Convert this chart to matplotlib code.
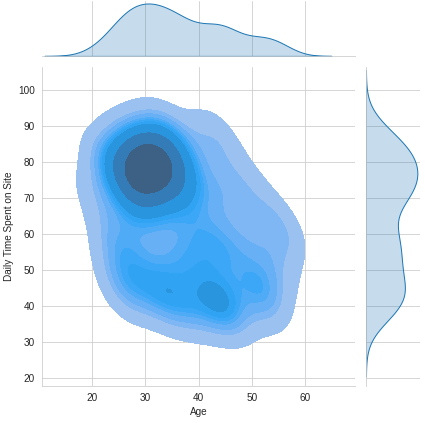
import matplotlib
matplotlib.use('Agg')
import matplotlib.pyplot as plt
import seaborn as sns
import pandas as pd

# hand-read sample of visitors (age, daily minutes on site)
# young visitors with long sessions
age_a = [30, 32, 35, 27, 31, 31, 34, 28, 34, 28, 29, 32, 30, 29,
         38, 37, 35, 31, 27, 25, 24, 25, 27, 31, 35, 37,
         44, 48, 52, 46, 42, 55, 22, 20, 23, 33, 40, 29, 42]
time_a = [79, 77, 78, 78, 83, 73, 82, 82, 74, 74, 76, 80, 84, 71,
          78, 83, 87, 88, 87, 83, 78, 73, 69, 68, 69, 73,
          84, 76, 68, 70, 89, 62, 82, 72, 62, 90, 65, 62, 72]
# older visitors with shorter sessions
age_b = [38, 35, 43, 32, 31, 27, 33, 43, 49, 52, 45, 53, 55, 52, 46,
         44, 40, 35, 46, 27, 26, 24, 42, 45, 39, 36, 50, 56, 26, 38]
time_b = [42, 44, 43, 42, 47, 52, 52, 46, 48, 47, 55, 42, 50, 39, 41,
          38, 37, 38, 36, 42, 45, 52, 55, 60, 58, 56, 57, 58, 58, 50]

sns.set_style('whitegrid')
plt.rcParams['font.family'] = ['Liberation Sans', 'DejaVu Sans']

df = pd.DataFrame({'Age': age_a + age_b,
                   'Daily Time Spent on Site': time_a + time_b})

g = sns.jointplot(data=df, x='Age', y='Daily Time Spent on Site', kind='kde',
                  fill=True, height=6, bw_adjust=0.75,
                  marginal_kws={'bw_adjust': 0.75})
g.ax_joint.set_xlim(10.6, 69.4)
g.ax_joint.set_ylim(17.7, 106.5)

g.fig.set_size_inches(425 / 72, 423 / 72)
g.fig.subplots_adjust(left=0.099, right=0.988, bottom=0.087, top=0.998)
g.fig.savefig('out.png', dpi=72)
